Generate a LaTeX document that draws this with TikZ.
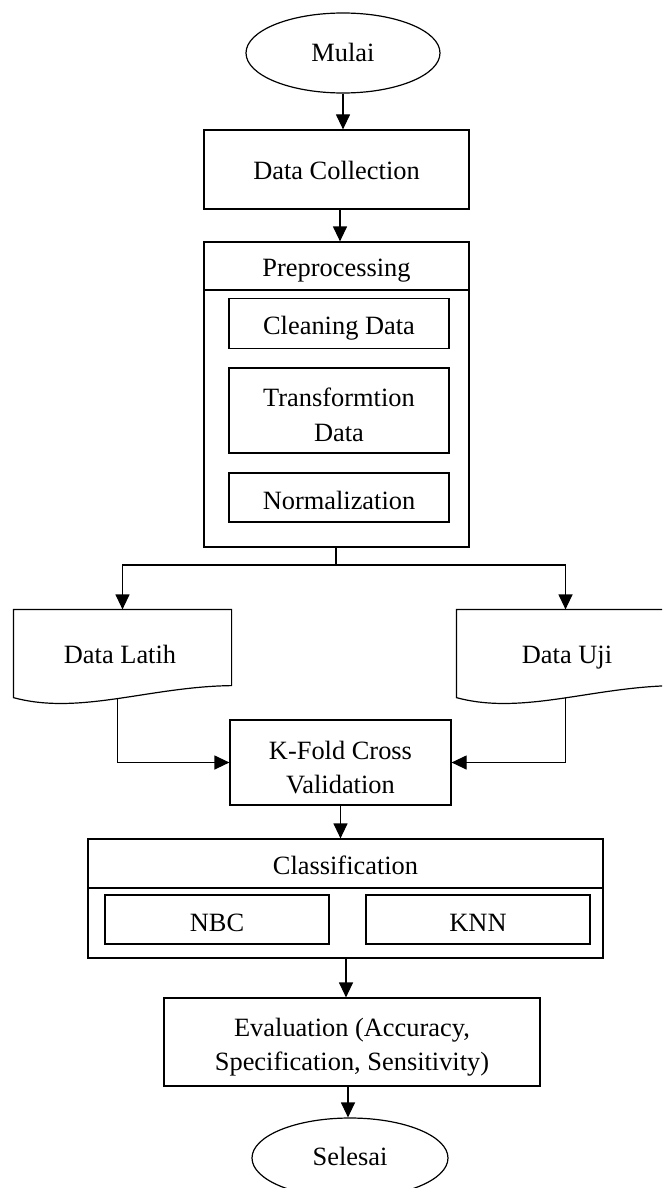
\documentclass[tikz,border=0pt]{standalone}
\usepackage{fontspec}
\setmainfont{Liberation Serif}
\usetikzlibrary{arrows.meta,shapes.geometric,calc}
\begin{document}
\begin{tikzpicture}[x=1pt,y=-1pt,
  line width=1.2pt,
  every node/.style={font=\fontsize{26.4}{34.5}\selectfont, align=center, inner sep=0pt},
  box/.style={draw, rectangle, minimum width=#1},
  term/.style={draw, ellipse, minimum width=194pt, minimum height=80pt},
  txt/.style={anchor=base},
  arr/.style={-{Triangle[length=15pt,width=14pt]}},
  docnode/.style={minimum width=217pt, minimum height=87pt}
]
\useasboundingbox (0,0) rectangle (662,1188);
\fill[white] (0,0) rectangle (662,1188);

% terminals
\node[term] (mulai) at (343,53) {};
\node[txt] (mulait) at (343,62) {Mulai};
\node[box=265pt, minimum height=79pt] (dc) at (336.5,169.5) {};
\node[txt] (dct) at (336.5,179) {Data Collection};

% preprocessing container
\node[box=265pt, minimum height=305pt] (prep) at (336.5,394.5) {};
\coordinate (prepL) at (204,290);
\coordinate (prepR) at (469,290);
\draw (prepL) -- (prepR);
\node[txt] (preph) at (336.5,276) {Preprocessing};
\node[box=220pt, minimum height=50pt] (clean) at (339,323.5) {};
\node[txt] (cleant) at (339,334) {Cleaning Data};
\node[box=220pt, minimum height=85pt] (trans) at (339,410.5) {};
\node (transt) at (339,415) {Transformtion\\Data};
\node[box=220pt, minimum height=49pt] (norm) at (339,497.5) {};
\node[txt] (normt) at (339,509) {Normalization};

% documents
\node[docnode] (dl) at (122.5,653.5) {};
\node[txt] (dlt) at (120,663) {Data Latih};
\node[docnode] (du) at (565.5,653.5) {};
\node[txt] (dut) at (567,663) {Data Uji};
\foreach \d in {dl,du}{
  \begin{scope}
  \clip (0,0) rectangle (662,1188);
  \draw (\d.south west) -- (\d.north west) -- (\d.north east) -- ([yshift=12pt]\d.south east)
     .. controls ([shift={(136pt,11pt)}]\d.south west) and ([shift={(66pt,-18pt)}]\d.south west) .. (\d.south west) -- cycle;
  \end{scope}
}

\node[box=221pt, minimum height=85pt] (kf) at (340.5,762.5) {};
\node (kft) at (340.5,767.5) {K-Fold Cross\\Validation};

% classification container
\node[box=515pt, minimum height=119pt] (cls) at (345.5,898.5) {};
\coordinate (clsL) at (88,888);
\coordinate (clsR) at (603,888);
\draw (clsL) -- (clsR);
\node[txt] (clsh) at (345.5,874) {Classification};
\node[box=224pt, minimum height=49pt] (nbc) at (217,919.5) {};
\node[txt] (nbct) at (217,931) {NBC};
\node[box=224pt, minimum height=49pt] (knn) at (478,919.5) {};
\node[txt] (knnt) at (478,931) {KNN};

\node[box=376pt, minimum height=88pt] (eval) at (352,1042) {};
\node (evalt) at (352,1047) {Evaluation (Accuracy,\\Specification, Sensitivity)};
\node[term, minimum width=196pt] (sel) at (350,1158) {};
\node[txt] (selt) at (350,1165) {Selesai};

% connectors
\draw[arr] (mulai.south) -- (mulai.south |- dc.north);
\draw[arr] (340,209.5) coordinate (dcb) -- (dcb |- prep.north);
\coordinate (split) at (336,565);
\draw (split |- prep.south) -- (split);
\draw[arr] (split) -| (dl.north);
\draw[arr] (split) -| (du.north);
\coordinate (dlo) at ([xshift=-5pt,yshift=-1pt]dl.south);
\draw[arr] (dlo) |- (kf.west);
\coordinate (duo) at ([yshift=-0.5pt]du.south);
\draw[arr] (duo) |- (kf.east);
\draw[arr] (kf.south) -- (kf.south |- cls.north);
\draw[arr] (346,958) coordinate (clb) -- (clb |- eval.north);
\draw[arr] (348,1086) coordinate (evb) -- (evb |- sel.north);
\end{tikzpicture}
\end{document}
